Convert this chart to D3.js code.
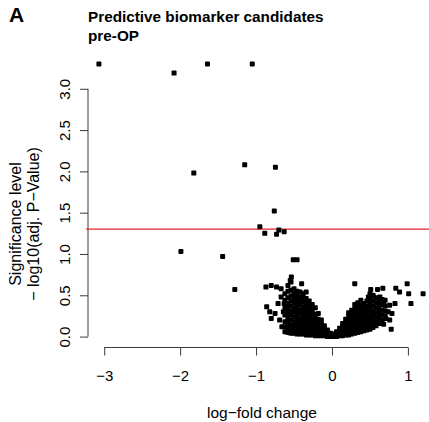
<!DOCTYPE html>
<html>
<head>
<meta charset="utf-8">
<script src="https://cdn.jsdelivr.net/npm/d3@7"></script>
<style>
    body { margin: 0; background: #fff; }
    svg { display: block; font-family: "Liberation Sans", Arial, sans-serif; }
</style>
</head>
<body>
<div id="chart"></div>
<script>
//Textos
const PANEL_LABEL = 'A';
const TITLE_LINES = ['Predictive biomarker candidates', 'pre-OP'];
const X_LABEL = 'log\u2212fold change';
const Y_LABEL_LINES = ['Significance level', '\u2212 log10(adj. P\u2212Value)'];

//Ticks
const X_TICKS = [-3, -2, -1, 0, 1];
const Y_TICKS = [0, 0.5, 1, 1.5, 2, 2.5, 3];

//Umbral: adj. p = 0.05
const THRESHOLD = 1.30;

//Genes destacados (logFC, -log10 adj p)
const hitsLogFC = [-3.07, -2.08, -1.64, -1.05, -1.82, -1.15, -0.745, -0.76, -0.95, -0.885, -0.73, -0.70, -0.63, -1.99, -1.44, -1.28, -0.51, -0.46];
const hitsSig   = [ 3.30,  3.19,  3.30,  3.30,  1.98,  2.08,  2.05,  1.52,  1.33,  1.25,  1.24,  1.29,  1.27,  1.03,  0.97,  0.57,  0.93,  0.93];

//Resto de genes, brazo izquierdo disperso
const leftScatter = [
    [-0.87, 0.60], [-0.80, 0.62], [-0.73, 0.60], [-0.67, 0.58], [-0.67, 0.48], [-0.71, 0.40],
    [-0.82, 0.30], [-0.75, 0.28], [-0.80, 0.22], [-0.69, 0.20], [-0.66, 0.12], [-0.86, 0.36],
    [-0.535, 0.72], [-0.55, 0.68], [-0.40, 0.64], [-0.34, 0.54], [-0.64, 0.30], [-0.63, 0.40]
];

//Brazo izquierdo denso
const leftCloud = [
    [-0.62, 0.06], [-0.62, 0.12], [-0.62, 0.18], [-0.62, 0.26], [-0.62, 0.34], [-0.62, 0.44], [-0.62, 0.52],
    [-0.58, 0.05], [-0.58, 0.10], [-0.58, 0.16], [-0.58, 0.22], [-0.58, 0.28], [-0.58, 0.34], [-0.58, 0.40], [-0.58, 0.47], [-0.58, 0.55], [-0.58, 0.62],
    [-0.54, 0.04], [-0.54, 0.09], [-0.54, 0.14], [-0.54, 0.20], [-0.54, 0.26], [-0.54, 0.31], [-0.54, 0.37], [-0.54, 0.43], [-0.54, 0.49], [-0.54, 0.56], [-0.54, 0.66],
    [-0.50, 0.04], [-0.50, 0.08], [-0.50, 0.13], [-0.50, 0.18], [-0.50, 0.24], [-0.50, 0.30], [-0.50, 0.35], [-0.50, 0.41], [-0.50, 0.46], [-0.50, 0.52], [-0.50, 0.58],
    [-0.46, 0.03], [-0.46, 0.08], [-0.46, 0.12], [-0.46, 0.17], [-0.46, 0.22], [-0.46, 0.28], [-0.46, 0.33], [-0.46, 0.39], [-0.46, 0.45], [-0.46, 0.50], [-0.46, 0.55],
    [-0.42, 0.03], [-0.42, 0.07], [-0.42, 0.12], [-0.42, 0.16], [-0.42, 0.21], [-0.42, 0.27], [-0.42, 0.32], [-0.42, 0.38], [-0.42, 0.43], [-0.42, 0.48], [-0.42, 0.54],
    [-0.38, 0.03], [-0.38, 0.07], [-0.38, 0.11], [-0.38, 0.16], [-0.38, 0.21], [-0.38, 0.26], [-0.38, 0.31], [-0.38, 0.36], [-0.38, 0.42], [-0.38, 0.47], [-0.38, 0.52],
    [-0.34, 0.02], [-0.34, 0.06], [-0.34, 0.10], [-0.34, 0.15], [-0.34, 0.20], [-0.34, 0.25], [-0.34, 0.30], [-0.34, 0.35], [-0.34, 0.40], [-0.34, 0.46],
    [-0.30, 0.02], [-0.30, 0.06], [-0.30, 0.10], [-0.30, 0.14], [-0.30, 0.19], [-0.30, 0.24], [-0.30, 0.29], [-0.30, 0.34], [-0.30, 0.39], [-0.30, 0.43],
    [-0.26, 0.02], [-0.26, 0.05], [-0.26, 0.09], [-0.26, 0.13], [-0.26, 0.18], [-0.26, 0.23], [-0.26, 0.28], [-0.26, 0.33], [-0.26, 0.39],
    [-0.22, 0.01], [-0.22, 0.05], [-0.22, 0.09], [-0.22, 0.13], [-0.22, 0.17], [-0.22, 0.22], [-0.22, 0.27], [-0.22, 0.35],
    [-0.18, 0.01], [-0.18, 0.04], [-0.18, 0.08], [-0.18, 0.12], [-0.18, 0.16], [-0.18, 0.21], [-0.18, 0.28],
    [-0.14, 0.01], [-0.14, 0.04], [-0.14, 0.07], [-0.14, 0.11], [-0.14, 0.15], [-0.14, 0.20],
    [-0.10, 0.01], [-0.10, 0.03], [-0.10, 0.06], [-0.10, 0.10], [-0.10, 0.13],
    [-0.06, 0.00], [-0.06, 0.03], [-0.06, 0.06], [-0.06, 0.08],
    [-0.02, 0.00], [-0.02, 0.02], [-0.02, 0.04]
];

//Brazo derecho denso
const rightCloud = [
    [0.02, 0.00], [0.02, 0.03],
    [0.06, 0.00], [0.06, 0.03], [0.06, 0.06],
    [0.10, 0.01], [0.10, 0.04], [0.10, 0.07], [0.10, 0.10],
    [0.14, 0.01], [0.14, 0.04], [0.14, 0.08], [0.14, 0.12], [0.14, 0.16],
    [0.18, 0.02], [0.18, 0.05], [0.18, 0.09], [0.18, 0.13], [0.18, 0.17], [0.18, 0.21],
    [0.22, 0.02], [0.22, 0.06], [0.22, 0.10], [0.22, 0.14], [0.22, 0.18], [0.22, 0.22], [0.22, 0.26], [0.22, 0.29],
    [0.26, 0.03], [0.26, 0.07], [0.26, 0.11], [0.26, 0.15], [0.26, 0.19], [0.26, 0.23], [0.26, 0.27], [0.26, 0.32],
    [0.30, 0.04], [0.30, 0.08], [0.30, 0.12], [0.30, 0.16], [0.30, 0.20], [0.30, 0.24], [0.30, 0.29], [0.30, 0.34], [0.30, 0.39],
    [0.34, 0.05], [0.34, 0.09], [0.34, 0.13], [0.34, 0.17], [0.34, 0.21], [0.34, 0.26], [0.34, 0.31], [0.34, 0.36], [0.34, 0.41],
    [0.38, 0.06], [0.38, 0.10], [0.38, 0.14], [0.38, 0.18], [0.38, 0.23], [0.38, 0.28], [0.38, 0.33], [0.38, 0.38], [0.38, 0.44],
    [0.42, 0.07], [0.42, 0.11], [0.42, 0.15], [0.42, 0.20], [0.42, 0.25], [0.42, 0.30], [0.42, 0.35], [0.42, 0.40],
    [0.46, 0.08], [0.46, 0.12], [0.46, 0.17], [0.46, 0.22], [0.46, 0.27], [0.46, 0.32], [0.46, 0.37], [0.46, 0.43],
    [0.50, 0.09], [0.50, 0.14], [0.50, 0.19], [0.50, 0.24], [0.50, 0.29], [0.50, 0.34], [0.50, 0.40], [0.50, 0.46], [0.50, 0.52],
    [0.54, 0.11], [0.54, 0.16], [0.54, 0.21], [0.54, 0.26], [0.54, 0.31], [0.54, 0.37], [0.54, 0.43], [0.54, 0.49],
    [0.58, 0.13], [0.58, 0.18], [0.58, 0.24], [0.58, 0.29], [0.58, 0.35], [0.58, 0.41], [0.58, 0.47],
    [0.62, 0.16], [0.62, 0.22], [0.62, 0.28], [0.62, 0.34], [0.62, 0.40], [0.62, 0.46],
    [0.66, 0.20], [0.66, 0.26], [0.66, 0.32], [0.66, 0.39], [0.66, 0.45],
    [0.70, 0.25], [0.70, 0.31], [0.70, 0.37], [0.70, 0.44]
];

//Brazo derecho disperso
const rightScatter = [
    [0.30, 0.64], [0.99, 0.64], [1.20, 0.52], [1.04, 0.40], [1.01, 0.52], [0.89, 0.54], [0.84, 0.585],
    [0.51, 0.57], [0.60, 0.57], [0.67, 0.585], [0.48, 0.48], [0.54, 0.50], [0.63, 0.48], [0.68, 0.40],
    [0.76, 0.38], [0.83, 0.40], [0.79, 0.28], [0.74, 0.30], [0.76, 0.20], [0.78, 0.09], [0.41, 0.40],
    [0.325, 0.36], [0.37, 0.34], [0.71, 0.22], [0.68, 0.15]
];

const width = 429, height = 422;
const FONT = '"Liberation Sans", Arial, sans-serif';

let svg = d3.select('#chart')
    .append('svg')
        .attr('width', width)
        .attr('height', height);

//Escalas (región del gráfico)
let x = d3.scaleLinear()
    .domain([-3.24, 1.37])
    .range([86, 436]);

let y = d3.scaleLinear()
    .domain([-0.132, 3.432])
    .range([347.5, 53.1]);

const AXIS_COLOR = '#3a3a3a';

//Eje X
let xAxis = svg.append('g')
    .attr('transform', 'translate(0,' + 347.5 + ')')
    .call(d3.axisBottom(x).tickValues(X_TICKS).tickSize(8).tickFormat(d3.format('d')));

xAxis.select('.domain').remove();
xAxis.append('line')
    .attr('x1', x(X_TICKS[0]))
    .attr('x2', x(X_TICKS[X_TICKS.length - 1]))
    .attr('stroke', AXIS_COLOR);
xAxis.selectAll('.tick line').attr('stroke', AXIS_COLOR);
xAxis.selectAll('.tick text')
    .attr('y', 33.5)
    .attr('dy', 0)
    .attr('fill', '#000')
    .style('font-size', '15px')
    .style('font-family', FONT);

//Eje Y
let yAxis = svg.append('g')
    .attr('transform', 'translate(' + 88 + ',0)')
    .call(d3.axisLeft(y).tickValues(Y_TICKS).tickSize(8).tickFormat(d3.format('.1f')));

yAxis.select('.domain').remove();
yAxis.append('line')
    .attr('y1', y(Y_TICKS[0]))
    .attr('y2', y(Y_TICKS[Y_TICKS.length - 1]))
    .attr('stroke', AXIS_COLOR);
yAxis.selectAll('.tick line').attr('stroke', AXIS_COLOR);
yAxis.selectAll('.tick text')
    .attr('x', null)
    .attr('dy', 0)
    .attr('transform', 'translate(-18,0) rotate(-90)')
    .attr('text-anchor', 'middle')
    .attr('fill', '#000')
    .style('font-size', '15px')
    .style('font-family', FONT);

//Línea de significación
svg.append('line')
    .attr('x1', x.range()[0])
    .attr('x2', width)
    .attr('y1', y(THRESHOLD))
    .attr('y2', y(THRESHOLD))
    .attr('stroke', '#e0262b')
    .attr('stroke-width', 1.2);

//Puntos
const hits = hitsLogFC.map(function(d, i) { return [d, hitsSig[i]]; });
const allGenes = hits.concat(leftScatter, leftCloud, rightCloud, rightScatter);
const SIZE = 5;

svg.append('g')
    .selectAll('rect')
    .data(allGenes)
    .enter()
    .append('rect')
    .attr('x', function(d) { return x(d[0]) - SIZE / 2; })
    .attr('y', function(d) { return y(d[1]) - SIZE / 2; })
    .attr('width', SIZE)
    .attr('height', SIZE)
    .attr('rx', 0.9)
    .attr('fill', '#000');

//Títulos
svg.append('text')
    .attr('x', 9)
    .attr('y', 22)
    .attr('fill', '#000')
    .style('font-size', '21px')
    .style('font-weight', 'bold')
    .text(PANEL_LABEL);

svg.selectAll('.title')
    .data(TITLE_LINES)
    .enter()
    .append('text')
    .attr('class', 'title')
    .attr('x', 88)
    .attr('y', function(d, i) { return 22 + i * 19; })
    .attr('fill', '#000')
    .style('font-size', '15.3px')
    .style('font-weight', 'bold')
    .text(function(d) { return d; });

svg.append('text')
    .attr('x', 262)
    .attr('y', 418)
    .attr('text-anchor', 'middle')
    .attr('fill', '#000')
    .style('font-size', '15.5px')
    .text(X_LABEL);

svg.selectAll('.ylabel')
    .data(Y_LABEL_LINES)
    .enter()
    .append('text')
    .attr('class', 'ylabel')
    .attr('transform', function(d, i) { return 'translate(' + (21 + i * 17.5) + ',224) rotate(-90)'; })
    .attr('text-anchor', 'middle')
    .attr('fill', '#000')
    .style('font-size', '16px')
    .text(function(d) { return d; });
</script>
</body>
</html>
